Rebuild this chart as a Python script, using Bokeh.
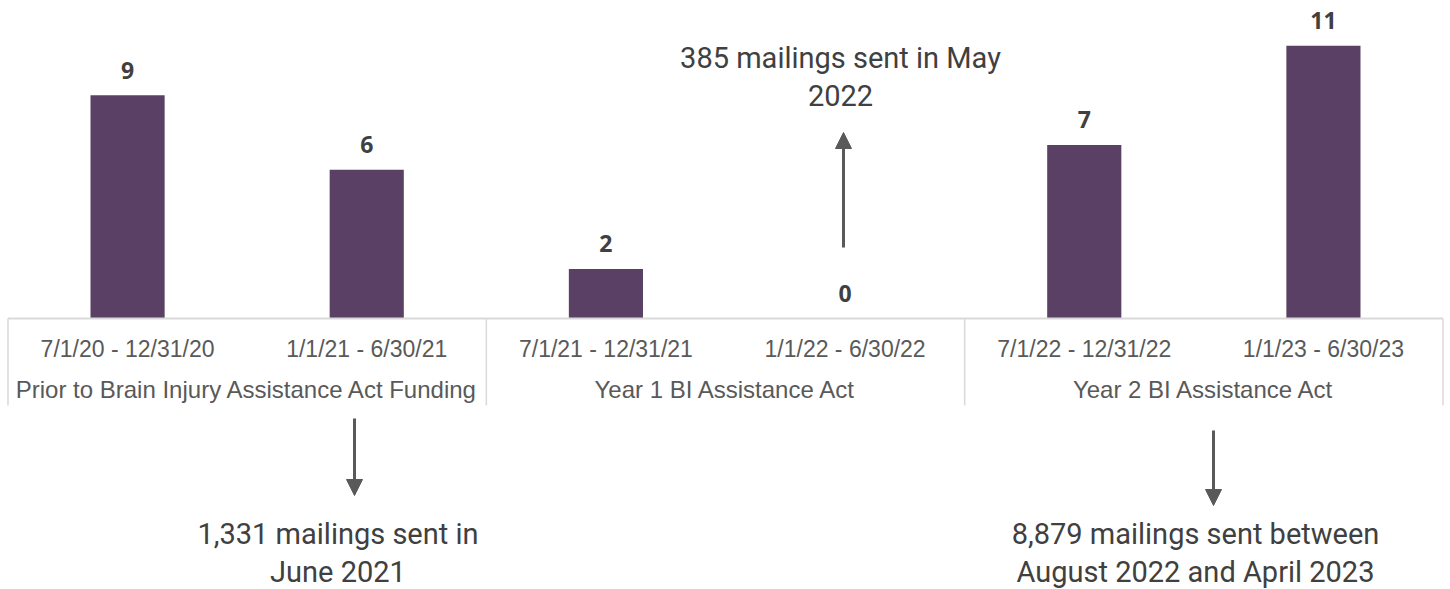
from bokeh.plotting import figure
from bokeh.models import FactorRange, Range1d, Arrow, NormalHead, ColumnDataSource
from bokeh.core.properties import value
from bokeh.embed import file_html
from bokeh.resources import INLINE

# ---- data ----
groups = ["Prior to Brain Injury Assistance Act Funding",
          "Year 1 BI Assistance Act",
          "Year 2 BI Assistance Act"]
periods = ["7/1/20 - 12/31/20", "1/1/21 - 6/30/21",
           "7/1/21 - 12/31/21", "1/1/22 - 6/30/22",
           "7/1/22 - 12/31/22", "1/1/23 - 6/30/23"]
period_group = [0, 0, 1, 1, 2, 2]
counts = [9, 6, 2, 0, 7, 11]

note_top_lines = ["385 mailings sent in May", "2022"]
note_left_lines = ["1,331 mailings sent in", "June 2021"]
note_right_lines = ["8,879 mailings sent between", "August 2022 and April 2023"]

# ---- layout constants ----
W, H = 1450, 589
PX_PER_UNIT = 24.8
BASE_PX = 318  # baseline distance from top of figure
y_top = BASE_PX / PX_PER_UNIT
y_bot = -(H - BASE_PX) / PX_PER_UNIT
PAD = 0.0313  # x padding (factor units) on each side

def py(img_y):
    return (BASE_PX - img_y) / PX_PER_UNIT

def px(img_x):
    return img_x / (W / (len(periods) + 2 * PAD)) - PAD

factors = [(groups[g], p_) for g, p_ in zip(period_group, periods)]

p = figure(width=W, height=H, output_backend="svg", toolbar_location=None,
           x_range=FactorRange(*factors, factor_padding=0, group_padding=0,
                               range_padding=PAD, range_padding_units="absolute"),
           y_range=Range1d(y_bot, y_top),
           x_axis_location=None, y_axis_location=None, min_border=0,
           outline_line_color=None, background_fill_color="white")
p.xgrid.visible = False
p.ygrid.visible = False

BAR = "#5A4064"
AX = "#595959"
DARK = "#404040"
LINE = "#D9D9D9"

src = ColumnDataSource(dict(x=factors, top=counts, label=[str(c) for c in counts],
                            period=periods))
p.vbar(x="x", top="top", width=0.31, source=src, fill_color=BAR, line_color=None)

# value labels
p.text(x="x", y="top", text="label", source=src, text_align="center",
       text_baseline="alphabetic", y_offset=-25,
       text_font=value("Open Sans"), text_font_style="bold",
       text_font_size="23px", text_color=DARK)

# group boundaries
bounds = [0]
for g in range(len(groups)):
    bounds.append(bounds[-1] + period_group.count(g))

# axis line
p.segment(x0=[bounds[0]], x1=[bounds[-1]], y0=[0], y1=[0], line_color=LINE, line_width=2)

# period labels
p.text(x="x", y=py(348), text="period", source=src, text_align="center",
       text_baseline="alphabetic", text_font=value("Liberation Sans"),
       text_font_size="23px", text_color=AX)

# group labels
gsrc = ColumnDataSource(dict(x=groups, text=groups))
p.text(x="x", y=py(389), text="text", source=gsrc, text_align="center",
       text_baseline="alphabetic", text_font=value("Liberation Sans"),
       text_font_size="24px", text_color=AX)

# group separators
p.segment(x0=bounds, x1=bounds, y0=[0] * len(bounds), y1=[py(405)] * len(bounds),
          line_color=LINE, line_width=1.5)

# annotations
def note(lines, xc, y0_px, step_px):
    for i, t in enumerate(lines):
        p.text(x=[xc], y=[py(y0_px + i * step_px)], text=[t], text_align="center",
               text_baseline="alphabetic", text_font=value("Roboto"),
               text_font_size="29px", text_color=DARK)

note(note_top_lines, px(840), 57, 38)
note(note_left_lines, px(337.5), 533, 38)
note(note_right_lines, px(1195), 533, 38)

head = dict(size=16, fill_color=AX, line_color=AX)
p.add_layout(Arrow(x_start=px(843), y_start=py(247), x_end=px(843), y_end=py(132),
                   line_color=AX, line_width=3, end=NormalHead(**head)))
p.add_layout(Arrow(x_start=px(354), y_start=py(418), x_end=px(354), y_end=py(495),
                   line_color=AX, line_width=3, end=NormalHead(**head)))
p.add_layout(Arrow(x_start=px(1213), y_start=py(430), x_end=px(1213), y_end=py(505),
                   line_color=AX, line_width=3, end=NormalHead(**head)))

open("out.html", "w").write(file_html(p, INLINE))
